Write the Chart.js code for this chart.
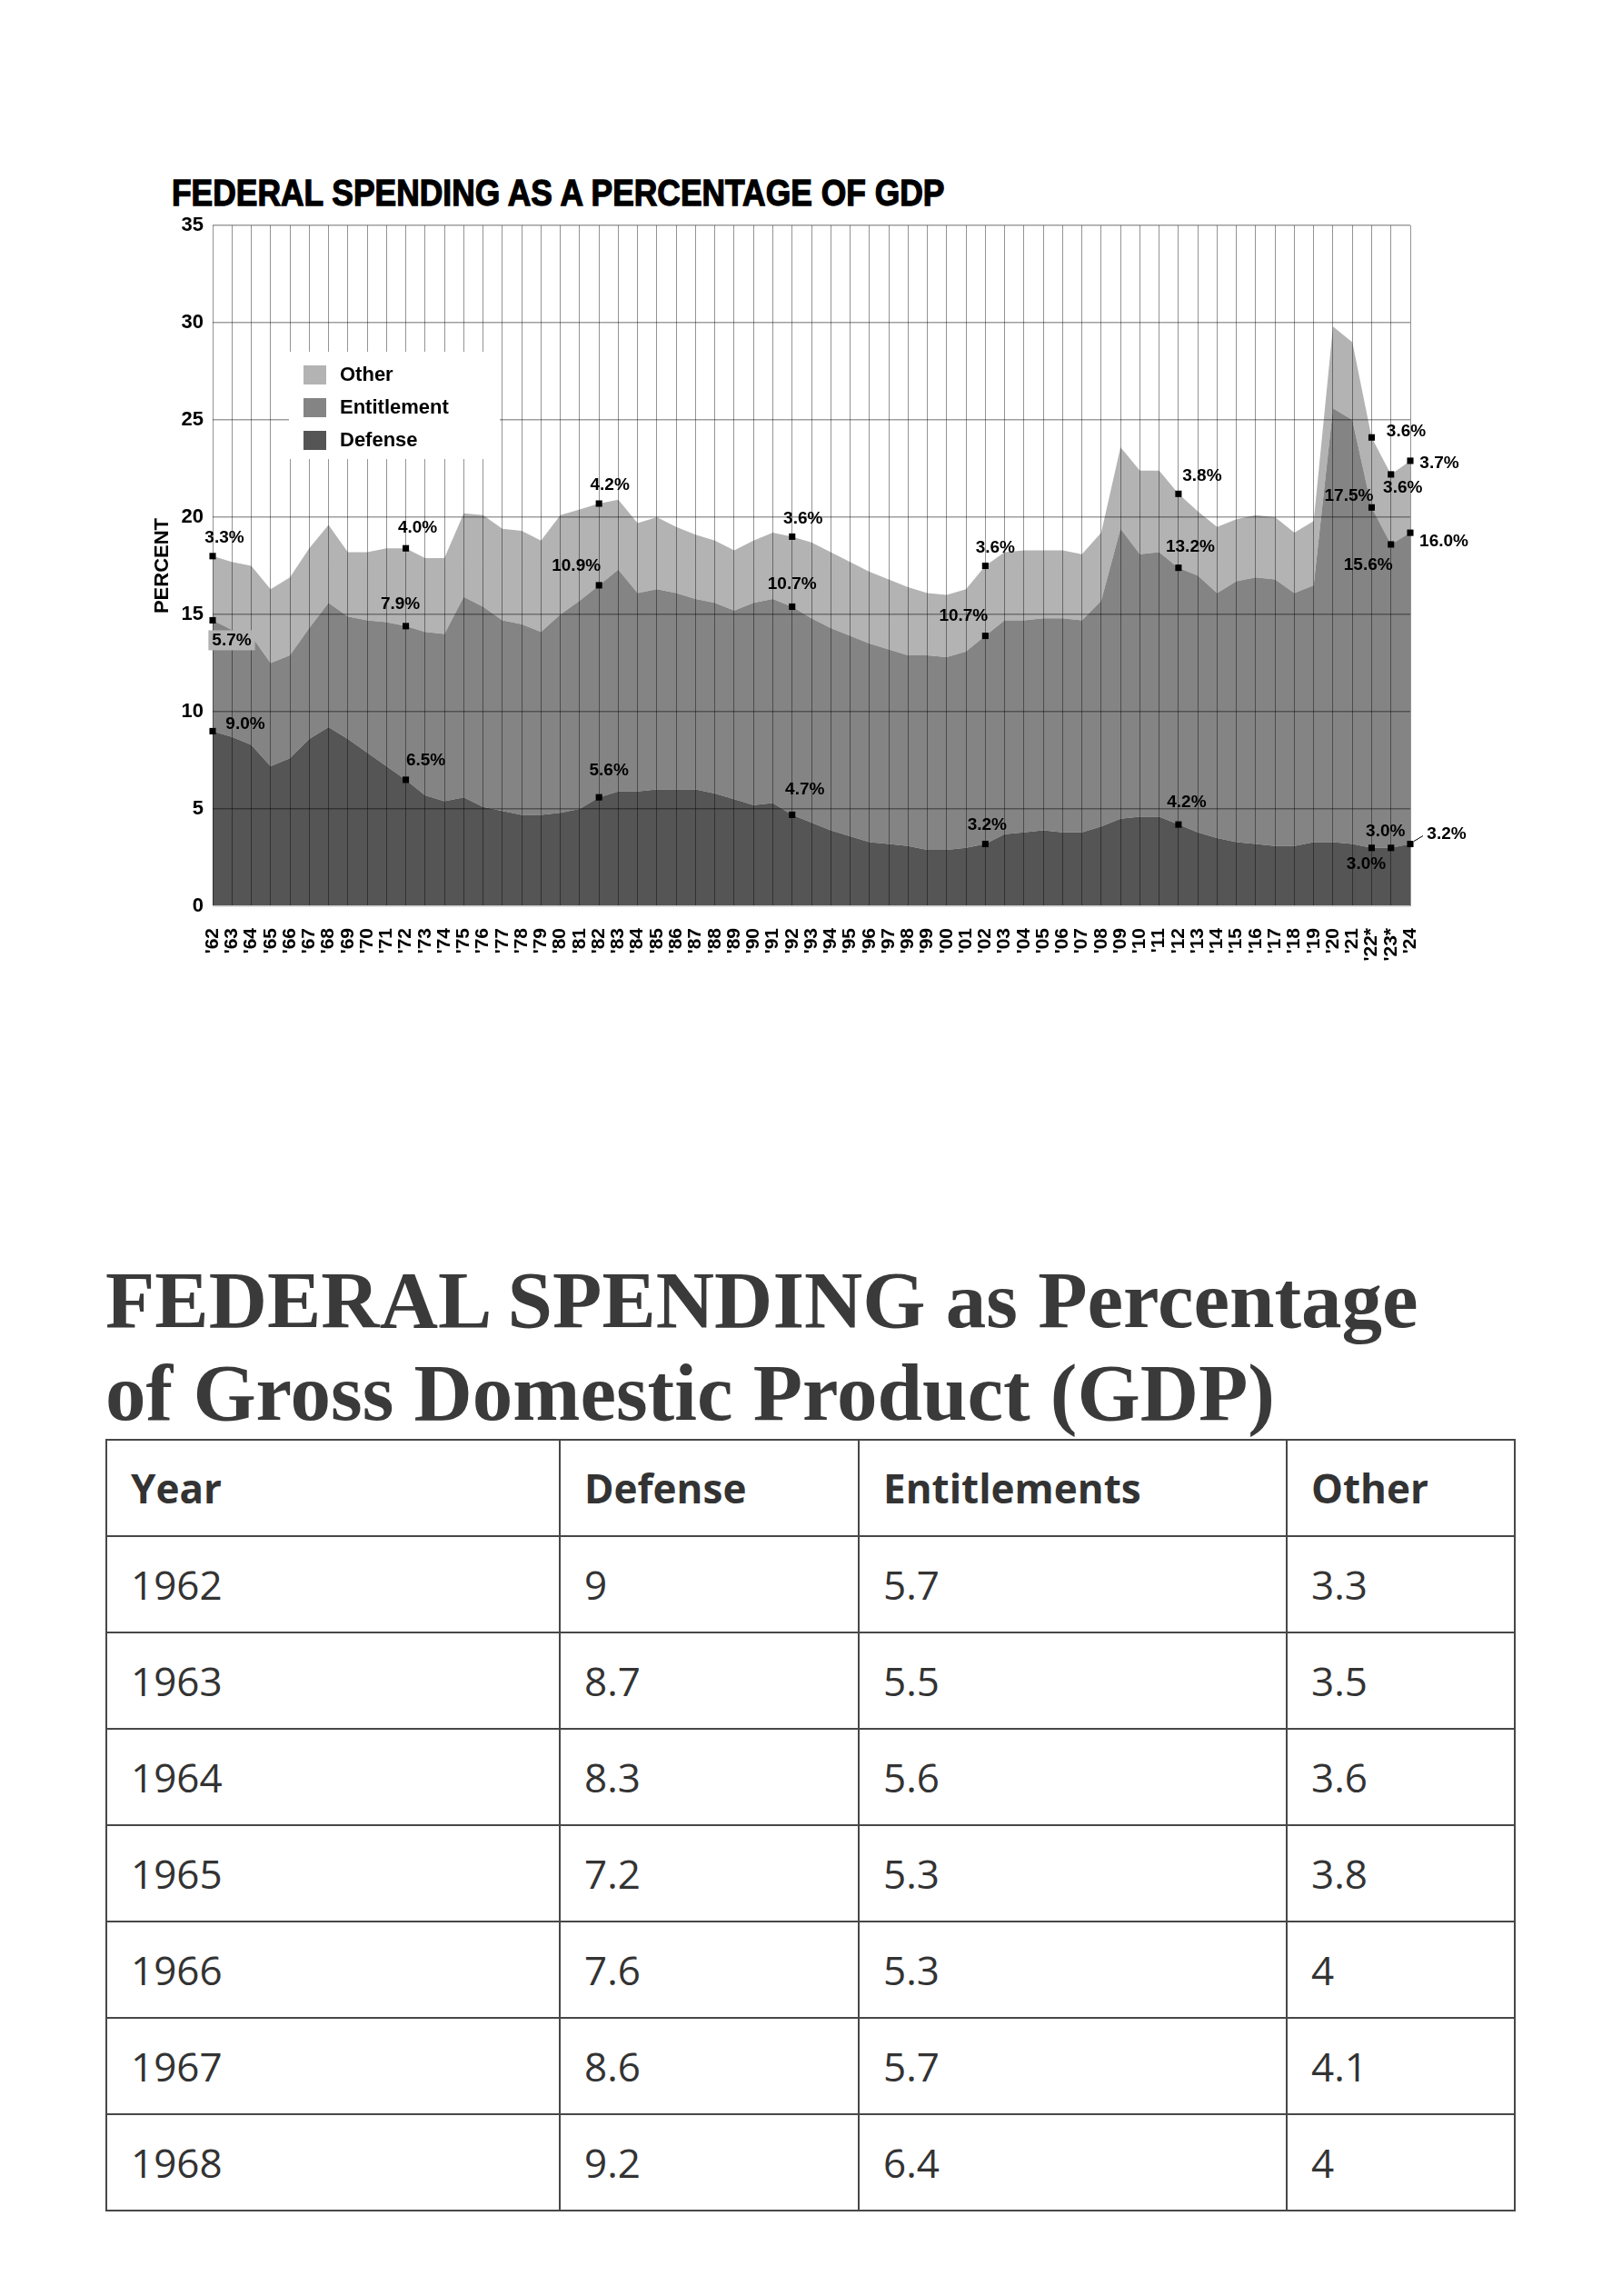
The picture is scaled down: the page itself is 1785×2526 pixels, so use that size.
<!DOCTYPE html>
<html>
<head>
<meta charset="utf-8">
<script src="https://cdn.jsdelivr.net/npm/chart.js@4.4.1/dist/chart.umd.min.js"></script>
<style>
body{margin:0;background:#fff;width:1785px;height:2526px;position:relative;overflow:hidden}
#chartBox{position:absolute;left:0;top:0;width:1785px;height:1100px}
#chartTitle{position:absolute;left:189px;top:192px;font-weight:bold;font-size:40px;font-family:"Liberation Sans",Arial,sans-serif;line-height:40px;color:#000;-webkit-text-stroke:1.3px #000;transform:scaleX(0.885);transform-origin:left top;white-space:nowrap}
h1{position:absolute;left:116px;top:1379px;margin:0;font-weight:bold;font-size:89px;font-family:"Liberation Serif",serif;line-height:102px;color:#3a3a3a;white-space:nowrap}
table{position:absolute;left:116px;top:1583px;width:1550px;border-collapse:collapse;font-family:"Open Sans",sans-serif;font-size:44px;color:#333;table-layout:fixed}
tr{height:106px}
td,th{border:2px solid #474747;padding:0 0 0 26px;text-align:left;vertical-align:middle}
th{font-weight:bold}
</style>
</head>
<body>
<div id="chartTitle">FEDERAL SPENDING AS A PERCENTAGE OF GDP</div>
<div id="chartBox"><canvas id="grafico"></canvas></div>
<h1>FEDERAL SPENDING as Percentage<br>of Gross Domestic Product (GDP)</h1>
<table>
  <colgroup><col style="width:499px"><col style="width:329px"><col style="width:471px"><col style="width:251px"></colgroup>
  <thead><tr><th>Year</th><th>Defense</th><th>Entitlements</th><th>Other</th></tr></thead>
  <tbody id="filas"></tbody>
</table>
<script>
// years 1962 - 2024
const years = [1962,1963,1964,1965,1966,1967,1968,1969,1970,1971,1972,1973,1974,1975,1976,1977,1978,1979,1980,1981,
  1982,1983,1984,1985,1986,1987,1988,1989,1990,1991,1992,1993,1994,1995,1996,1997,1998,1999,2000,2001,
  2002,2003,2004,2005,2006,2007,2008,2009,2010,2011,2012,2013,2014,2015,2016,2017,2018,2019,2020,2021,
  2022,2023,2024]
const tickLabels = ["'62","'63","'64","'65","'66","'67","'68","'69","'70","'71","'72","'73","'74","'75","'76","'77","'78","'79","'80","'81",
  "'82","'83","'84","'85","'86","'87","'88","'89","'90","'91","'92","'93","'94","'95","'96","'97","'98","'99","'00","'01",
  "'02","'03","'04","'05","'06","'07","'08","'09","'10","'11","'12","'13","'14","'15","'16","'17","'18","'19","'20","'21",
  "'22*","'23*","'24"]
const defense = [9.0,8.7,8.3,7.2,7.6,8.6,9.2,8.6,7.9,7.2,6.5,5.7,5.4,5.6,5.1,4.9,4.7,4.7,4.8,5.0,
  5.6,5.9,5.9,6.0,6.0,6.0,5.8,5.5,5.2,5.3,4.7,4.3,3.9,3.6,3.3,3.2,3.1,2.9,2.9,3.0,
  3.2,3.7,3.8,3.9,3.8,3.8,4.1,4.5,4.6,4.6,4.2,3.8,3.5,3.3,3.2,3.1,3.1,3.3,3.3,3.2,
  3.0,3.0,3.2]
const entitlement = [5.7,5.5,5.6,5.3,5.3,5.7,6.4,6.3,6.8,7.4,7.9,8.4,8.6,10.3,10.3,9.8,9.8,9.4,10.2,10.7,
  10.9,11.4,10.2,10.3,10.1,9.8,9.8,9.7,10.4,10.5,10.7,10.5,10.4,10.3,10.2,10.0,9.8,10.0,9.9,10.1,
  10.7,11.0,10.9,10.9,11.0,10.9,11.6,14.9,13.5,13.6,13.2,13.2,12.6,13.4,13.7,13.7,13.0,13.2,22.3,21.8,
  17.5,15.6,16.0]
const other = [3.3,3.5,3.6,3.8,4.0,4.1,4.0,3.3,3.5,3.8,4.0,3.8,3.9,4.3,4.7,4.7,4.8,4.7,5.1,4.7,
  4.2,3.6,3.6,3.7,3.4,3.3,3.2,3.1,3.2,3.4,3.6,3.9,3.9,3.8,3.7,3.6,3.5,3.2,3.2,3.2,
  3.6,3.5,3.6,3.5,3.5,3.4,3.5,4.2,4.3,4.2,3.8,3.3,3.4,3.2,3.2,3.2,3.1,3.3,4.2,4.0,
  3.6,3.6,3.7]
const yTicks = [0,5,10,15,20,25,30,35]
const markedYears = [1962,1972,1982,1992,2002,2012,2022,2023,2024]
const tableYears = [1962,1963,1964,1965,1966,1967,1968]

// tabla
let filas = document.getElementById("filas")
tableYears.forEach(y=>{
  let i = years.indexOf(y)
  let tr = document.createElement("tr")
  ;[y, defense[i], entitlement[i], other[i]].forEach(v=>{
    let td = document.createElement("td")
    td.textContent = v
    tr.appendChild(td)
  })
  filas.appendChild(tr)
})

const series = {defense, entitlement, other}
const marca = y => markedYears.includes(y)
const defMarks = years.map((y,i)=> marca(y) ? defense[i] : null)
const entMarks = years.map((y,i)=> marca(y) ? +(defense[i]+entitlement[i]).toFixed(2) : null)
const othMarks = years.map((y,i)=> marca(y) ? +(defense[i]+entitlement[i]+other[i]).toFixed(2) : null)

// label offsets from the marker (px)
const labelOffsets = {
  defense: {1962:[36,-8],1972:[22,-21],1982:[11,-29],1992:[14,-28],2002:[2,-21],2012:[9,-24],2022:[-6,18],2023:[-6,-18],2024:[40,-11]},
  entitlement: {1962:[21,22],1972:[-6,-24],1982:[-25,-21],1992:[0,-25],2002:[-24,-22],2012:[13,-23],2022:[-25,-13],2023:[-25,23],2024:[37,10]},
  other: {1962:[13,-20],1972:[13,-22],1982:[12,-20],1992:[12,-20],2002:[11,-20],2012:[26,-20],2022:[38,-6],2023:[13,15],2024:[32,3]}
}

const etiquetas = {
  id:'etiquetas',
  afterDraw(chart){
    const ctx = chart.ctx
    ctx.save()
    ctx.font = 'bold 19px "Liberation Sans", Arial, sans-serif'
    ctx.textAlign = 'center'
    ctx.textBaseline = 'middle'
    chart.data.datasets.forEach((ds,di)=>{
      if(!ds.markOf) return
      const meta = chart.getDatasetMeta(di)
      ds.data.forEach((v,i)=>{
        if(v==null) return
        const pt = meta.data[i]
        const [dx,dy] = labelOffsets[ds.markOf][years[i]]
        const txt = series[ds.markOf][i].toFixed(1)+'%'
        if(ds.markOf=='entitlement' && years[i]==1962){
          const w = ctx.measureText(txt).width + 8
          ctx.fillStyle = '#b3b3b3'
          ctx.fillRect(pt.x+dx-w/2, pt.y+dy-11, w, 22)
        }
        if(ds.markOf=='defense' && years[i]==2024){
          ctx.strokeStyle = '#000'
          ctx.lineWidth = 1
          ctx.beginPath()
          ctx.moveTo(pt.x+4, pt.y-3)
          ctx.lineTo(pt.x+14, pt.y-9)
          ctx.stroke()
        }
        ctx.fillStyle = '#000'
        ctx.fillText(txt, pt.x+dx, pt.y+dy)
      })
    })
    ctx.restore()
  }
}

const leyenda = {
  id:'leyenda',
  afterDraw(chart){
    const {ctx, chartArea} = chart
    const x = chartArea.left + 84, y = chartArea.top + 139
    ctx.save()
    ctx.fillStyle = '#fff'
    ctx.fillRect(x, y, 232, 118)
    ctx.font = 'bold 22px "Liberation Sans", Arial, sans-serif'
    ctx.textBaseline = 'middle'
    ;[2,1,0].forEach((di,k)=>{
      const ds = chart.data.datasets[di]
      const cy = y + 25 + k*36
      ctx.fillStyle = ds.backgroundColor
      ctx.fillRect(x+16, cy-10, 25, 21)
      ctx.fillStyle = '#000'
      ctx.fillText(ds.legendText, x+56, cy+1)
    })
    ctx.restore()
  }
}

const marker = (data, name) => ({
  label: name+' marks', markOf: name, data, stack: 'm_'+name, order: -1,
  showLine: false, fill: false, pointStyle: 'rect', pointRadius: 5,
  pointBackgroundColor: '#000', pointBorderWidth: 0
})

let grafico = new Chart(document.getElementById("grafico"), {
  type: 'line',
  data: {
    labels: tickLabels,
    datasets: [
      {label:'Defense', legendText:'Defense', data: defense, fill:'origin', backgroundColor:'#555555', borderWidth:0, pointRadius:0},
      {label:'Entitlement', legendText:'Entitlement', data: entitlement, fill:'-1', backgroundColor:'#848484', borderWidth:0, pointRadius:0},
      {label:'Other', legendText:'Other', data: other, fill:'-1', backgroundColor:'#b3b3b3', borderWidth:0, pointRadius:0},
      marker(defMarks,'defense'),
      marker(entMarks,'entitlement'),
      marker(othMarks,'other')
    ]
  },
  options: {
    responsive: true,
    maintainAspectRatio: false,
    animation: false,
    events: [],
    elements: { line: { tension: 0 } },
    layout: { padding: { left:160, right:233, top:248, bottom:23 } },
    plugins: { legend: { display:false }, tooltip: { enabled:false } },
    scales: {
      x: {
        offset: false,
        afterFit: s => { s.height = 80 },
        grid: { z:1, color:'rgba(0,0,0,0.42)', lineWidth:1, drawTicks:false },
        border: { display:false },
        ticks: {
          autoSkip:false, minRotation:90, maxRotation:90, padding:24,
          color:'#000', font:{ family:'"Liberation Sans", Arial, sans-serif', size:21, weight:'bold' }
        }
      },
      y: {
        stacked: true,
        min: 0, max: 35,
        afterFit: s => { s.width = 74 },
        afterBuildTicks: s => { s.ticks = yTicks.map(v=>({value:v})) },
        grid: {
          z:1, drawTicks:false, lineWidth:1.6,
          color: c => c.tick && c.tick.value === 0 ? '#c4c4c4' : 'rgba(0,0,0,0.38)'
        },
        border: { display:false },
        ticks: { padding:10, color:'#000', font:{ family:'"Liberation Sans", Arial, sans-serif', size:22, weight:'bold' } },
        title: {
          display:true, text:'PERCENT', color:'#000',
          padding:{ top:6, bottom:0 },
          font:{ family:'"Liberation Sans", Arial, sans-serif', size:22, weight:'bold' }
        }
      }
    }
  },
  plugins: [etiquetas, leyenda]
})
</script>
</body>
</html>
